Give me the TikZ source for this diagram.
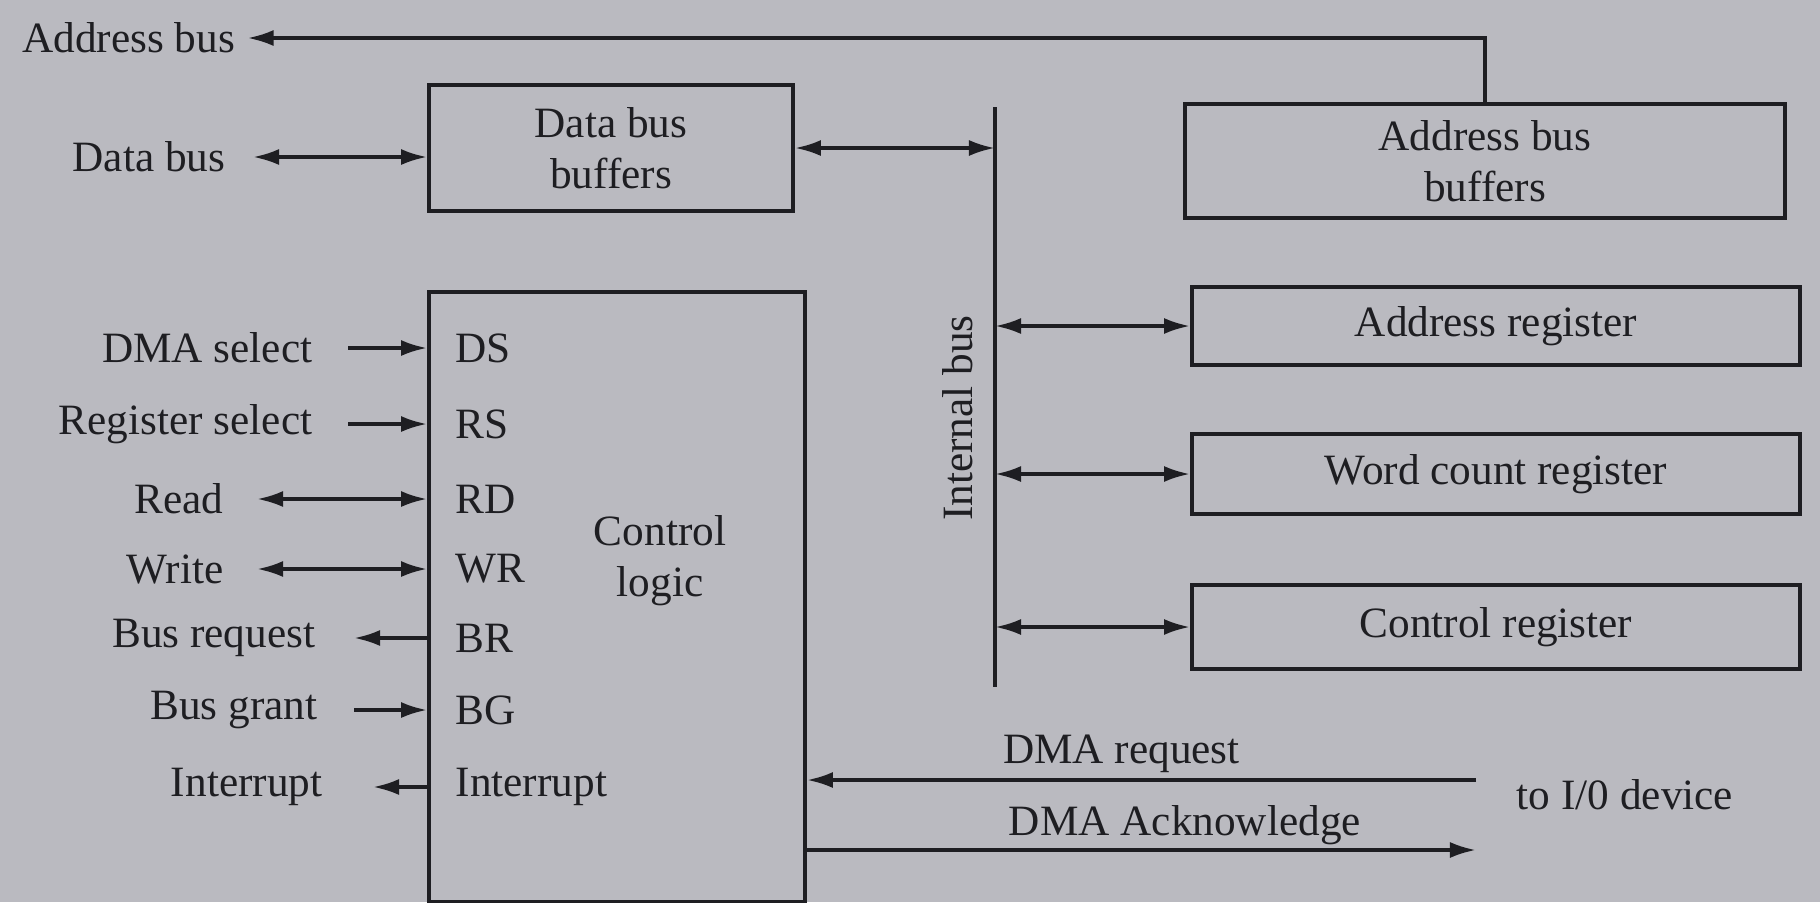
\documentclass[tikz,border=0pt]{standalone}
\usepackage{fontspec}
\setmainfont{Liberation Serif}
\usetikzlibrary{arrows.meta,positioning}
\definecolor{paper}{RGB}{186,186,192}
\definecolor{ink}{RGB}{30,30,34}

\begin{document}
\begin{tikzpicture}[
  x=0.01cm,y=-0.01cm,
  every node/.style={font=\fontsize{12.3}{14.5}\selectfont,text=ink,align=center},
  box/.style={draw=ink,line width=1pt,inner sep=0pt},
  sig/.style={anchor=east,inner sep=0pt},
  pin/.style={anchor=west,inner sep=0pt},
  arr/.style={-{Latex[length=2.6mm,width=1.6mm]},draw=ink,line width=1pt},
  darr/.style={{Latex[length=2.6mm,width=1.6mm]}-{Latex[length=2.6mm,width=1.6mm]},draw=ink,line width=1pt}
]
\fill[paper] (0,0) rectangle (1820,902);
\useasboundingbox (0,0) rectangle (1820,902);

% blocks
\node[box,minimum width=3.64cm,minimum height=1.26cm] (dbb) at (611,148) {Data bus\\buffers};
\node[box,minimum width=6cm,minimum height=1.14cm] (abb) at (1485,161) {Address bus\\buffers};
\node[box,minimum width=6.08cm,minimum height=0.78cm] (areg) at (1496,326) {Address register};
\node[box,minimum width=6.08cm,minimum height=0.8cm] (wcreg) at (1496,474) {Word count register};
\node[box,minimum width=6.08cm,minimum height=0.84cm] (ctreg) at (1496,627) {Control register};
\node[box,minimum width=3.76cm,minimum height=6.1cm] (ctl) at (617,597) {};
\node (ctltxt) at (660,561) {Control\\logic};

% internal bus
\coordinate (bustop) at (995,107);
\coordinate (busbot) at (995,687);
\draw[ink,line width=1pt] (bustop) -- (busbot);
\node[rotate=90] (buslbl) at (958,418) {Internal bus};

% pins of the control logic
\node[pin] (ds) at (455,348) {DS};
\node[pin] (rs) at (455,424) {RS};
\node[pin] (rd) at (455,499) {RD};
\node[pin] (wr) at (455,569) {WR};
\node[pin] (br) at (455,638) {BR};
\node[pin] (bg) at (455,710) {BG};
\node[pin] (intr) at (455,787) {Interrupt};

% outside signals
\node[anchor=west] (abus) at (10,38) {Address bus};
\node[sig] (dbus) at (226,157) {Data bus};
\node[sig] (dmasel) at (313,348) {DMA select};
\node[sig] (regsel) at (313,424) {Register select};
\node[sig] (read) at (224,499) {Read};
\node[sig] (write) at (224,569) {Write};
\node[sig] (busreq) at (316,638) {Bus request};
\node[sig] (busgnt) at (318,710) {Bus grant};
\node[sig] (intout) at (323,787) {Interrupt};
\node (iodev) at (1625,795) {to I/0 device};
\coordinate (ioreq) at (1476,780);
\coordinate (ioack) at (1476,850);

\draw[arr] (abb.north) |- (abus);
\draw[darr,shorten <=0.27cm] (dbus) -- (dbus -| dbb.west);
\draw[darr] (dbb.east) -- (dbb.east -| bustop);
\draw[darr] (areg.west -| bustop) -- (areg.west);
\draw[darr] (wcreg.west -| bustop) -- (wcreg.west);
\draw[darr] (ctreg.west -| bustop) -- (ctreg.west);
\draw[arr,shorten <=0.35cm] (dmasel) -- (dmasel -| ctl.west);
\draw[arr,shorten <=0.35cm] (regsel) -- (regsel -| ctl.west);
\draw[darr,shorten <=0.33cm] (read) -- (read -| ctl.west);
\draw[darr,shorten <=0.33cm] (write) -- (write -| ctl.west);
\draw[arr,shorten >=0.38cm] (busreq -| ctl.west) -- (busreq);
\draw[arr,shorten <=0.36cm] (busgnt) -- (busgnt -| ctl.west);
\draw[arr,shorten >=0.5cm] (intout -| ctl.west) -- (intout);
\draw[arr] (ioreq) -- (ioreq -| ctl.east) node[above,inner sep=1.5pt,pos=0.53] {DMA request};
\draw[arr] (ioack -| ctl.east) -- (ioack) node[above,inner sep=1pt,pos=0.565] {DMA Acknowledge};
\end{tikzpicture}
\end{document}
